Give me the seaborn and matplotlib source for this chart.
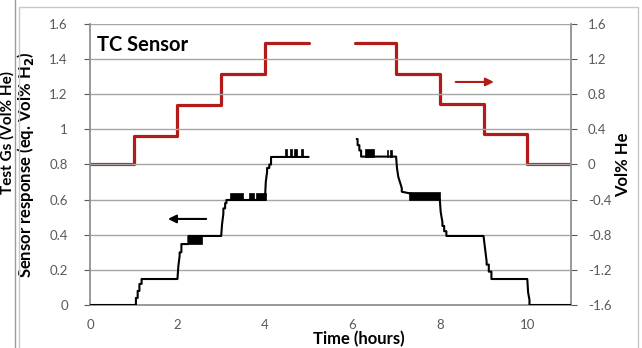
import matplotlib
matplotlib.use("Agg")
import matplotlib.pyplot as plt
import seaborn as sns
import pandas as pd
from matplotlib.lines import Line2D

# ---------------- data ----------------
# Sensor response (left axis), two segments separated by a data gap
resp_t1 = [0, 1.05, 1.05, 1.09, 1.09, 1.13, 1.13, 1.18, 1.18, 2.0, 2.02, 2.05, 2.05, 2.09, 2.09,
           2.25, 2.25, 3.0, 3.02, 3.05, 3.05, 3.09, 3.09, 3.12, 3.12, 4.0, 4.02, 4.05, 4.05,
           4.1, 4.1, 4.14, 4.14, 5.0]
resp_v1 = [0, 0, 0.04, 0.04, 0.08, 0.08, 0.12, 0.12, 0.148, 0.148, 0.22, 0.28, 0.30, 0.30,
           0.347, 0.347, 0.393, 0.393, 0.46, 0.52, 0.55, 0.55, 0.58, 0.58, 0.598, 0.598, 0.70,
           0.76, 0.78, 0.78, 0.80, 0.80, 0.843, 0.843]
resp_t2 = [6.1, 6.12, 6.12, 6.16, 6.16, 6.2, 6.2, 7.0, 7.02, 7.05, 7.05, 7.1, 7.1, 7.13, 7.13,
           8.0, 8.02, 8.06, 8.06, 8.1, 8.1, 8.15, 8.15, 9.0, 9.03, 9.07, 9.07, 9.12, 9.12,
           9.18, 9.18, 10.0, 10.02, 10.05, 10.05, 11.0]
resp_v2 = [0.945, 0.945, 0.91, 0.91, 0.88, 0.88, 0.845, 0.845, 0.78, 0.73, 0.73, 0.69, 0.69,
           0.665, 0.645, 0.60, 0.53, 0.47, 0.45, 0.45, 0.42, 0.42, 0.393, 0.393, 0.33, 0.25,
           0.23, 0.23, 0.19, 0.19, 0.148, 0.148, 0.07, 0.03, 0.0, 0.0]

# Noisy bands in the sensor trace (start h, end h, low, high)
noise_start = [2.25, 3.20, 3.64, 3.79, 4.45, 4.58, 4.67, 4.83, 6.28, 6.79, 6.86, 7.30]
noise_end   = [2.57, 3.50, 3.74, 4.02, 4.50, 4.62, 4.73, 4.87, 6.50, 6.82, 6.90, 8.00]
noise_low   = [0.347, 0.598, 0.598, 0.598, 0.843, 0.843, 0.843, 0.843, 0.845, 0.845, 0.845, 0.600]
noise_high  = [0.393, 0.640, 0.640, 0.640, 0.890, 0.890, 0.890, 0.890, 0.890, 0.885, 0.885, 0.645]

# Test gas He concentration (right axis)
he_t1 = [0, 1, 1, 2, 2, 3, 3, 4, 4, 5]
he_v1 = [0, 0, 0.33, 0.33, 0.68, 0.68, 1.03, 1.03, 1.38, 1.38]
he_t2 = [6.05, 7, 7, 8, 8, 9, 9, 10, 10, 11]
he_v2 = [1.38, 1.38, 1.03, 1.03, 0.69, 0.69, 0.35, 0.35, 0, 0]

left_ticks = [0, 0.2, 0.4, 0.6, 0.8, 1.0, 1.2, 1.4, 1.6]
left_labels = ["0", "0.2", "0.4", "0.6", "0.8", "1", "1.2", "1.4", "1.6"]
right_ticks = [-1.6, -1.2, -0.8, -0.4, 0, 0.4, 0.8, 1.2, 1.6]
right_labels = ["-1.6", "-1.2", "-0.8", "-0.4", "0", "0.4", "0.8", "1.2", "1.6"]
x_ticks = [0, 2, 4, 6, 8, 10]

# ---------------- style ----------------
sns.set_theme(style="white")
plt.rcParams["font.family"] = ["Lato", "DejaVu Sans"]

W, H = 642, 348
fig = plt.figure(figsize=(W / 100, H / 100), dpi=100)
fig.patch.set_facecolor("white")
ax = fig.add_axes([90 / W, 1 - 305 / H, (571 - 90) / W, (305 - 24) / H])
ax2 = ax.twinx()

grid_c = "#a6a6a6"
tick_c = "#595959"
red = "#b31b1b"

# frames (panel borders)
fig.add_artist(Line2D([15 / W, 15 / W], [0, 1], color="#9a9a9a", lw=1, transform=fig.transFigure))
fig.add_artist(Line2D([19 / W, 19 / W, 638 / W, 638 / W], [0, 1 - 7 / H, 1 - 7 / H, 0],
                      color="#c8c8c8", lw=1, transform=fig.transFigure))

# left axis: sensor response
ax.set_xlim(0, 11)
ax.set_ylim(0, 1.6)
for yv in left_ticks[1:]:
    ax.axhline(yv, color=grid_c, lw=1, zorder=0)

d1 = pd.DataFrame({"t": resp_t1, "v": resp_v1})
d2 = pd.DataFrame({"t": resp_t2, "v": resp_v2})
sns.lineplot(data=d1, x="t", y="v", ax=ax, color="black", lw=1.5, sort=False, estimator=None, zorder=3)
sns.lineplot(data=d2, x="t", y="v", ax=ax, color="black", lw=1.5, sort=False, estimator=None, zorder=3)
widths = [e - s for s, e in zip(noise_start, noise_end)]
heights = [h - l for l, h in zip(noise_low, noise_high)]
ax.bar(noise_start, heights, width=widths, bottom=noise_low, align="edge", color="black",
       edgecolor="black", lw=0.5, zorder=3)

ax.set_yticks(left_ticks)
ax.set_yticklabels(left_labels)
ax.set_xticks(x_ticks)
ax.tick_params(axis="both", colors=tick_c, labelsize=9.5, length=4, width=0.8, direction="out",
               labelcolor=tick_c)
ax.tick_params(axis="y", pad=12)
ax.tick_params(axis="x", pad=6)
ax.set_ylabel("Sensor response (eq. Vol% H$_\\mathbf{2}$)", fontsize=12, fontweight="bold",
              color="black")
ax.yaxis.set_label_coords(-0.112, 0.5)
ax.set_xlabel("Time (hours)", fontsize=12, fontweight="bold", color="black")
ax.xaxis.set_label_coords(0.558, -0.093)
for s in ("top", "right"):
    ax.spines[s].set_visible(False)
ax.spines["left"].set_color("#8c8c8c")
ax.spines["bottom"].set_color("#8c8c8c")

# right axis: He concentration
ax2.set_ylim(-1.6, 1.6)
e1 = pd.DataFrame({"t": he_t1, "v": he_v1})
e2 = pd.DataFrame({"t": he_t2, "v": he_v2})
sns.lineplot(data=e1, x="t", y="v", ax=ax2, color=red, lw=2.3, sort=False, estimator=None)
sns.lineplot(data=e2, x="t", y="v", ax=ax2, color=red, lw=2.3, sort=False, estimator=None)
ax2.set_yticks(right_ticks)
ax2.set_yticklabels(right_labels)
ax2.tick_params(axis="y", colors=tick_c, labelsize=9.5, length=4, width=0.8, pad=8, labelcolor=tick_c)
ax2.set_ylabel("Vol% He", fontsize=12, fontweight="bold", color="black")
ax2.yaxis.set_label_coords(1.092, 0.5)
ax2.set_xlabel("")
for s in ("top", "left", "bottom"):
    ax2.spines[s].set_visible(False)
ax2.spines["right"].set_color("#8c8c8c")
ax.set_zorder(ax2.get_zorder() + 1)
ax.patch.set_visible(False)

# arrows
ax.annotate("", xy=(1.72, 0.49), xytext=(2.72, 0.49),
            arrowprops=dict(arrowstyle="-|>", color="black", lw=1.5, mutation_scale=12))
ax2.annotate("", xy=(9.3, 0.94), xytext=(8.3, 0.94),
             arrowprops=dict(arrowstyle="-|>", color=red, lw=1.5, mutation_scale=12))

ax.text(0.014, 0.96, "TC Sensor", transform=ax.transAxes, fontsize=14.5, fontweight="bold",
        color="black", va="top", ha="left")

# label of the neighbouring panel (partly visible at the left edge)
fig.text(7 / W, 1 - 132 / H, "Test Gs (Vol% He)", rotation=90, fontsize=11, fontweight="bold",
         ha="center", va="center", color="black")

fig.savefig("out.png", dpi=100)
